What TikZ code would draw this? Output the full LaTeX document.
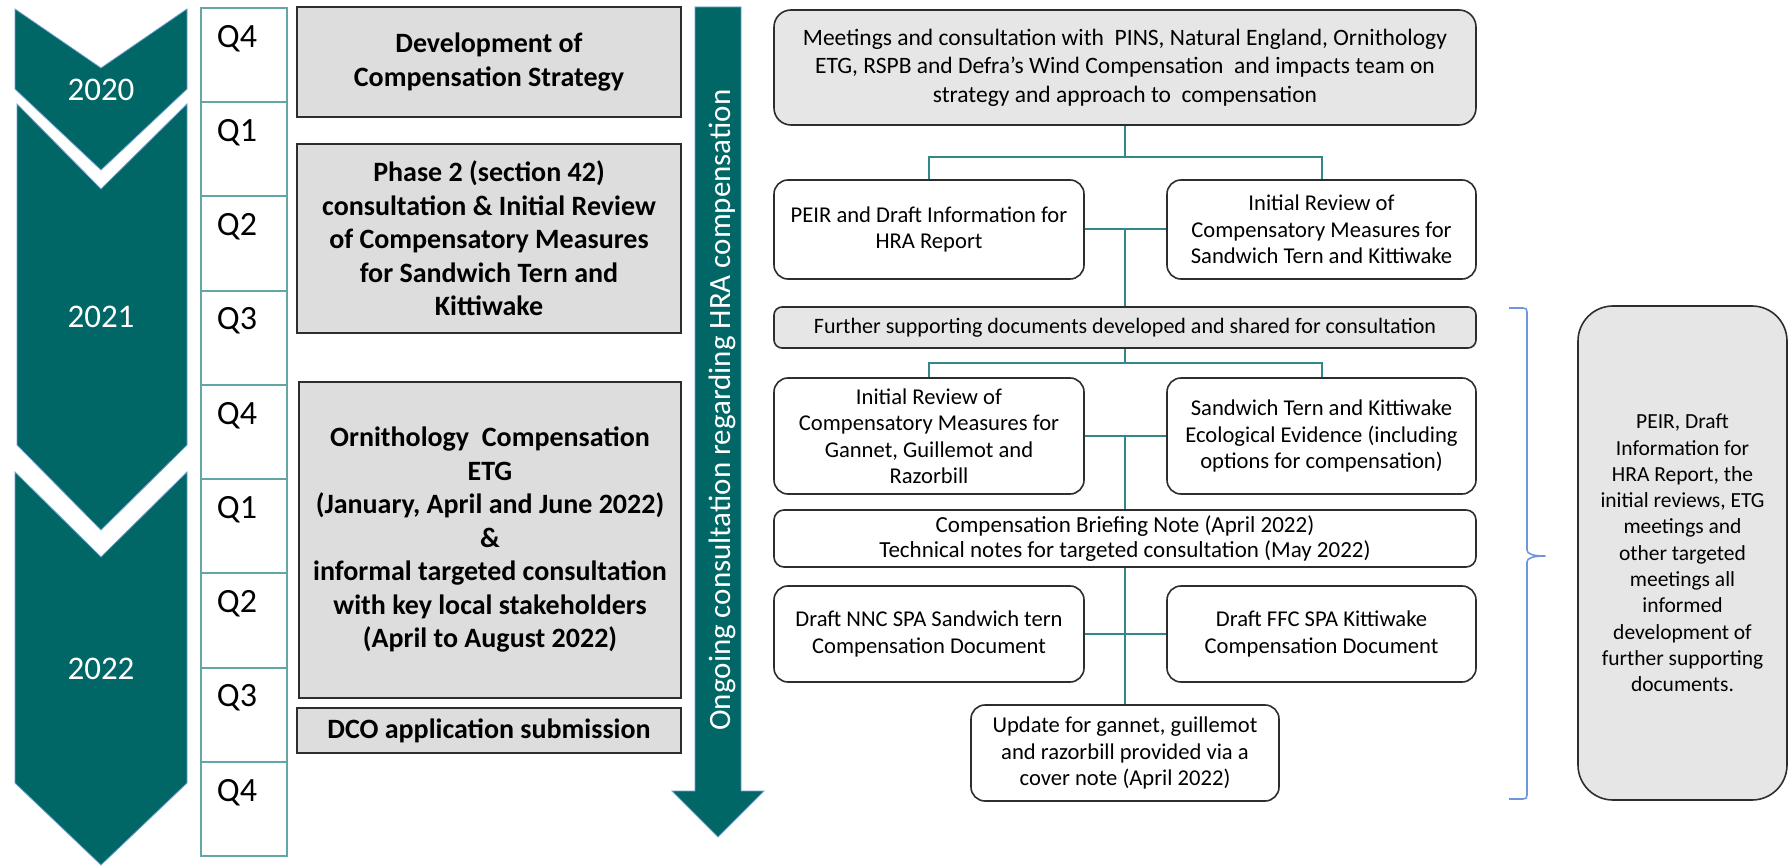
\documentclass[tikz,border=0pt]{standalone}
\usepackage{fontspec}
\setmainfont{Carlito}
\usetikzlibrary{calc}
\definecolor{tealdark}{RGB}{0,102,102}
\definecolor{tealline}{RGB}{50,135,135}
\definecolor{qline}{RGB}{100,165,165}
\definecolor{boxgrey}{RGB}{221,221,221}
\definecolor{lightgrey}{RGB}{230,230,230}
\definecolor{bordergrey}{RGB}{45,45,45}
\definecolor{bracecol}{RGB}{110,150,220}
\definecolor{chevedge}{RGB}{110,160,210}
\begin{document}
\begin{tikzpicture}[x=1pt,y=-1pt,
  chev/.style={fill=tealdark, draw=chevedge, line width=0.8pt},
  yeartext/.style={text=white, inner sep=0pt, font=\fontsize{33}{40}\selectfont},
  qcell/.style={draw=qline, line width=2pt},
  qtext/.style={inner sep=0pt, font=\fontsize{34}{40}\selectfont},
  leftbox/.style={draw=bordergrey, fill=boxgrey, line width=1.8pt, align=center, inner sep=0pt, font=\bfseries\fontsize{28}{33.5}\selectfont},
  flowbox/.style={draw=bordergrey, fill=white, line width=1.6pt, rounded corners=14pt, align=center, inner sep=0pt, font=\fontsize{22.6}{26.5}\selectfont},
  greyflow/.style={flowbox, fill=lightgrey},
  notebox/.style={draw=bordergrey, fill=lightgrey, line width=1.6pt, rounded corners=35pt, align=center, inner sep=0pt, font=\fontsize{21.5}{26.3}\selectfont},
  link/.style={draw=tealline, line width=2pt},
]
\useasboundingbox (0,0) rectangle (1789,866);

% year chevrons
\draw[chev] (15,9) -- (101,68) -- (187,9) -- (187,89) -- (101,170) -- (15,89) -- cycle;
\draw[chev] (17,104) -- (101,189) -- (187,104) -- (187,445) -- (101,530) -- (17,445) -- cycle;
\draw[chev] (15,472) -- (101,557) -- (187,472) -- (187,783) -- (101,865) -- (15,783) -- cycle;
\node[yeartext] (y2020) at (101,89.5) {2020};
\node[yeartext] (y2021) at (101,317) {2021};
\node[yeartext] (y2022) at (101,669) {2022};

% quarters
\foreach \i/\q in {0/Q4,1/Q1,2/Q2,3/Q3,4/Q4,5/Q1,6/Q2,7/Q3,8/Q4}{
  \draw[qcell] (201,{8+94.22*\i}) rectangle (287,{8+94.22*(\i+1)});
  \node[qtext] (q\i) at (237,{8+94.22*\i+30.5}) {\q};
}

% left grey boxes
\node[leftbox, minimum width=384pt, minimum height=110pt] (dev) at (489,62) {Development of\\Compensation Strategy};
\node[leftbox, minimum width=384pt, minimum height=189pt] (phase) at (489,238.5) {Phase 2 (section 42)\\consultation \& Initial Review\\of Compensatory Measures\\for Sandwich Tern and\\Kittiwake};
\node[leftbox, minimum width=382pt, minimum height=316pt] (orn) at (490,540) {Ornithology\ \ Compensation\\ETG\\(January, April and June 2022)\\\&\\informal targeted consultation\\with key local stakeholders\\(April to August 2022)};
\node[leftbox, minimum width=384pt, minimum height=45pt] (dco) at (489,730.5) {DCO application submission};

% ongoing arrow
\draw[fill=tealdark, draw=chevedge, line width=0.8pt] (695,7) -- (741,7) -- (741,791) -- (764,791) -- (718,837) -- (672,791) -- (695,791) -- cycle;
\node[rotate=90, anchor=base, text=white, inner sep=0pt, font=\fontsize{31}{36}\selectfont] (ongo) at (730,410) {Ongoing consultation regarding HRA compensation};

% flow boxes
\node[greyflow, rounded corners=17pt, minimum width=702pt, minimum height=115pt, font=\fontsize{23.5}{28.5}\selectfont] (top) at (1125,67.5) {Meetings and consultation with\ \ PINS,\ Natural England,\ Ornithology\\ETG, RSPB and Defra’s Wind Compensation\ \ and impacts team on\\strategy and approach to\ \ compensation};
\node[flowbox, minimum width=310pt, minimum height=99pt] (peir) at (929,229.5) {PEIR and Draft Information for\\HRA Report};
\node[flowbox, minimum width=309pt, minimum height=99pt] (irst) at (1321.5,229.5) {Initial Review of\\Compensatory Measures for\\Sandwich Tern and Kittiwake};
\node[greyflow, rounded corners=8pt, minimum width=702pt, minimum height=41pt, font=\fontsize{22}{26.5}\selectfont] (further) at (1125,327.5) {Further supporting documents developed and shared for consultation};
\node[flowbox, minimum width=310pt, minimum height=116pt] (irgg) at (929,436) {Initial Review of\\Compensatory Measures for\\Gannet, Guillemot and\\Razorbill};
\node[flowbox, minimum width=309pt, minimum height=116pt] (steco) at (1321.5,436) {Sandwich Tern and Kittiwake\\Ecological Evidence (including\\options for compensation)};
\node[flowbox, rounded corners=10pt, minimum width=702pt, minimum height=57pt, font=\fontsize{23}{25}\selectfont] (brief) at (1125,538.5) {Compensation Briefing Note (April 2022)\\Technical notes for targeted consultation (May 2022)};
\node[flowbox, minimum width=310pt, minimum height=96pt] (nnc) at (929,634) {Draft NNC SPA Sandwich tern\\Compensation Document};
\node[flowbox, minimum width=309pt, minimum height=96pt] (ffc) at (1321.5,634) {Draft FFC SPA Kittiwake\\Compensation Document};
\node[flowbox, minimum width=308pt, minimum height=96pt] (update) at (1125,753) {Update for gannet, guillemot\\and razorbill provided via a\\cover note (April 2022)};

% connectors
\coordinate (j1) at (1125,157);
\coordinate (j2) at (1125,363);
\draw[link] (top.south) -- (j1);
\draw[link] (peir.north) |- (j1) -| (irst.north);
\draw[link] (peir.east) -- (irst.west);
\draw[link] (peir.east -| further.north) -- (further.north);
\draw[link] (further.south) -- (j2);
\draw[link] (irgg.north) |- (j2) -| (steco.north);
\draw[link] (irgg.east) -- (steco.west);
\draw[link] (irgg.east -| brief.north) -- (brief.north);
\draw[link] (nnc.east) -- (ffc.west);
\draw[link] (brief.south) -- (update.north);

% brace and note
\draw[bracecol, line width=1.6pt, line join=round] (1509,308) -- (1523,308) .. controls (1526,308) and (1527,309) .. (1527,312) -- (1527,550) .. controls (1527,554) and (1533,556) .. (1545,556) .. controls (1533,556) and (1527,558) .. (1527,562) -- (1527,795) .. controls (1527,798) and (1526,799) .. (1523,799) -- (1509,799);
\node[notebox, minimum width=209pt, minimum height=494pt] (note) at (1682.5,553) {PEIR, Draft\\Information for\\HRA Report, the\\initial reviews, ETG\\meetings and\\other targeted\\meetings all\\informed\\development of\\further supporting\\documents.};
\end{tikzpicture}
\end{document}
